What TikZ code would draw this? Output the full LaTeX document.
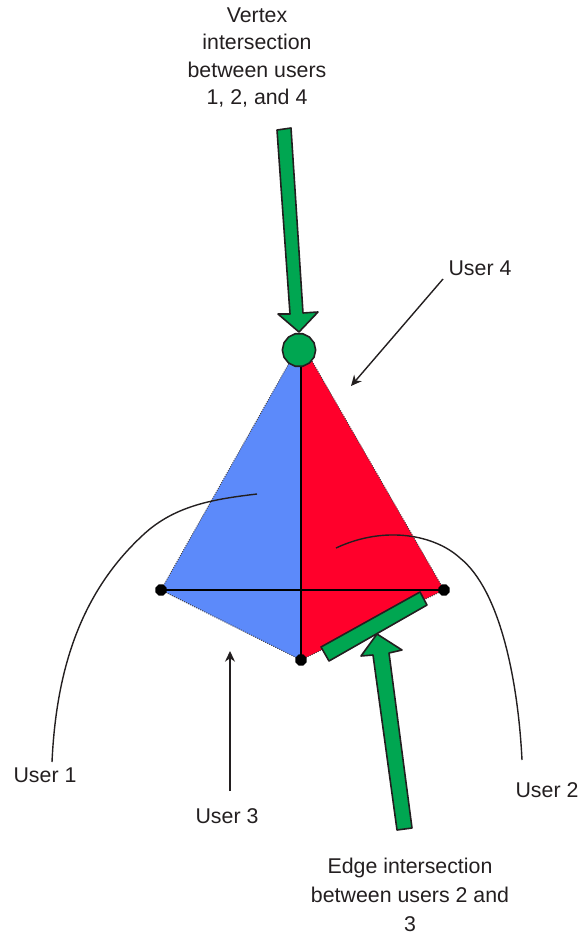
\documentclass[tikz,border=0pt]{standalone}
\usepackage{fontspec}
\setmainfont{Liberation Sans}
\usetikzlibrary{arrows.meta,shapes.geometric}
\definecolor{ublue}{RGB}{92,138,250}
\definecolor{ured}{RGB}{255,0,43}
\definecolor{ugreen}{RGB}{0,166,81}
\definecolor{uink}{RGB}{35,31,32}
\tikzset{
  lbl/.style={font=\fontsize{16pt}{21.5pt}\selectfont,align=center,text=uink,inner sep=0pt},
  gshape/.style={fill=ugreen,draw=uink,line width=1.2pt,line join=round},
  thin line/.style={draw=uink,line width=1.05pt},
  pointer/.style={thin line,-{Stealth[length=8pt,width=7.5pt]}},
  vertexdot/.style={regular polygon,regular polygon sides=8,fill=black,inner sep=0pt,minimum size=9pt},
  edgeline/.style={draw=black,line width=1.5pt},
  rim/.style={draw=uink!85,line width=0.7pt,densely dotted}
}
\begin{document}
\begin{tikzpicture}[x=0.75pt,y=-0.75pt]
\useasboundingbox (0,0) rectangle (580,934);
% faces
\coordinate (T) at (301,342);
\coordinate (L) at (161,590);
\coordinate (R) at (444,590);
\coordinate (B) at (301,660);
\fill[ublue] (T) -- (L) -- (B) -- cycle;
\fill[ured] (T) -- (R) -- (B) -- cycle;
\draw[rim] (T) -- (L) -- (B) -- (R) -- cycle;
\draw[edgeline] (T) -- (B);
\draw[edgeline] (L) -- (R);
\node[vertexdot] (nL) at (L) {};
\node[vertexdot] (nR) at (R) {};
\node[vertexdot] (nB) at (B) {};
% top marker
\node[regular polygon,regular polygon sides=14,gshape,minimum size=25pt,inner sep=0pt] (vert) at (299,350) {};
\draw[gshape] (277,130) -- (291,128) -- (303,313) -- (318,312) -- (299,332) -- (278,314) -- (290,314) -- cycle;
% edge marker
\draw[gshape] (321,647) -- (420,592) -- (427,605) -- (329,661) -- cycle;
\draw[gshape] (397,830) -- (412,828) -- (389,653) -- (402,650) -- (377,634) -- (361,656) -- (373,655) -- cycle;
% labels
\node[lbl,font=\fontsize{16pt}{20.3pt}\selectfont] (vlabel) at (257,57.5) {Vertex\\intersection\\between users\\1, 2, and 4};
\node[lbl] (u4) at (480,268) {User 4};
\node[lbl] (u1) at (45,775) {User 1};
\node[lbl] (u3) at (227,816) {User 3};
\node[lbl] (u2) at (547,790) {User 2};
\node[lbl] (elabel) at (410,895) {Edge intersection\\between users 2 and\\3};
% pointers
\coordinate (u4a) at (443,279);
\coordinate (u4b) at (351,386);
\coordinate (u3a) at (230,791);
\coordinate (u3b) at (230,651);
\draw[pointer] (u4a) -- (u4b);
\draw[pointer] (u3a) -- (u3b);
\coordinate (c1a) at (52,762);
\coordinate (c1b) at (257,494);
\coordinate (c2a) at (522,760);
\coordinate (c2b) at (336,548);
\draw[thin line] (c1a) .. controls (56,675) and (78,595) .. (143,535) .. controls (175,505) and (215,499) .. (c1b);
\draw[thin line] (c2a) .. controls (518,680) and (500,590) .. (460,558) .. controls (435,535) and (385,525) .. (c2b);
\end{tikzpicture}
\end{document}
